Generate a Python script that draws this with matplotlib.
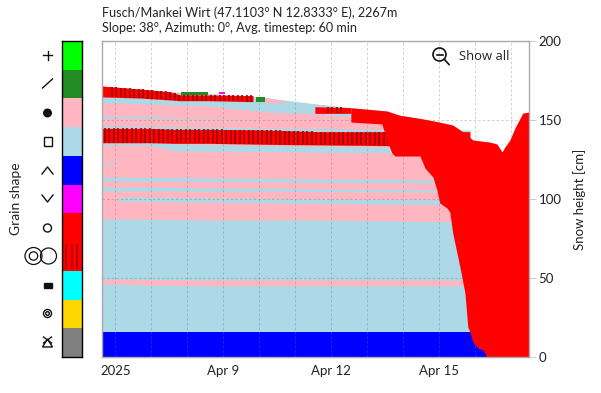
import numpy as np
import matplotlib
matplotlib.use('Agg')
import matplotlib.pyplot as plt
from matplotlib.patches import Circle, Rectangle, Polygon

plt.rcParams['font.family'] = ['Lato', 'DejaVu Sans']

PINK = '#FFB6C1'
LBLUE = '#ADD8E6'
RED = '#FF0000'
DARK = '#A00000'

# legend
grain_colors = ['#00FF00', '#228B22', PINK, LBLUE, '#0000FF', '#FF00FF', RED, RED,
                '#00FFFF', '#FFD700', '#808080']

# x tick labels, days since Apr 6
x_ticks = [0, 3, 6, 9]
x_labels = ['2025', 'Apr 9', 'Apr 12', 'Apr 15']
y_ticks = [0, 50, 100, 150, 200]

# snow surface
t_surface = [-0.375, -0.1, 0.68, 1.79, 2.76, 3.74, 4.15, 4.85, 5.4, 5.82, 6.6, 7.54, 7.9, 8.46,
             8.93, 9.37, 9.7, 9.93, 10.4, 10.6, 10.74, 10.82, 10.96, 11.1, 11.32, 11.49]
surface = [171.5, 171, 169.6, 167.4, 166.5, 164.6, 164.2, 161.7, 160.4, 159.5, 157.6, 155.7, 153, 151,
           149, 146.8, 141.8, 137.3, 136, 134.8, 129.7, 132.9, 137.3, 144.9, 154.4, 155]

# lower limit of the wet red part
t_front = [6.54, 7.4, 7.57, 7.68, 7.76, 8.46, 8.6, 8.82, 8.93, 9.01, 9.21, 9.29, 9.37, 9.57,
           9.71, 9.79, 9.85, 9.93, 10.07, 10.21, 10.32, 11.49]
front = [148.7, 147.5, 135.4, 129.1, 127.2, 127.2, 119.6, 113.9, 105.7, 97.5, 94.3, 91.8, 78.5, 57,
         40.5, 19, 15.8, 9.5, 5.7, 4.4, 0, 0]

# layer limits
t_bands = [-0.375, 0.07, 0.96, 1.65, 2.63, 4.15, 5.68, 7.49, 9.85]
faceted_top = [87.3, 87.3, 87.3, 87, 86.7, 86.7, 86.7, 86.1, 85.4]
strip_low = [46.1, 46.1, 45.5, 45.3, 45.1, 45.1, 45.1, 45.1, 45.1]
strip_high = [49.2, 49.2, 49, 48.9, 48.7, 48.7, 48.7, 48.7, 48.7]
lb2_low = [98.7, 98.7, 98.4, 98.2, 98, 97.5, 97.2, 96.8, 96.5]
lb2_high = [101.3, 101.3, 101.2, 101, 100.6, 100.3, 100, 99.7, 99.5]
lb3_low = [105.1, 105.1, 105, 105, 104.9, 104.8, 104.7, 104.5, 104.4]
lb3_high = [107.6, 107.6, 107.5, 107.3, 107, 106.8, 106.4, 106, 105.7]
lb4_low = [111.4, 111.4, 111.2, 111.2, 111, 110.8, 110.5, 110.3, 110.1]
lb4_high = [113.9, 113.9, 113.7, 113.5, 113.3, 113, 112.6, 112.3, 112]
lb5_low = [134.2, 134.2, 134, 130.5, 130.2, 130, 129.7, 129.3, 129]
lb5_high = [136, 136, 136, 135, 134.5, 134, 133.5, 133, 132]
lb6_low = [144, 144, 144, 143.5, 143.5, 143, 142, 142, 142]
lb6_high = [146.2, 146.2, 146, 145.8, 145.5, 145, 144.6, 144, 143.7]
lb7_low = [151.3, 151.3, 151, 151, 151, 151, 151, 151, 151]
lb7_high = [152.5, 152.5, 152.3, 151.8, 151.4, 151, 151, 151, 151]
lb8_low = [160.8, 160.8, 160.1, 159.5, 158.9, 155.1, 153.8, 150, 130]
crust2_low = [135.6, 135.6, 135.6, 135.2, 135.2, 134.6, 134.2, 133.8, 133.5]
crust2_high = [144.7, 144.7, 144.7, 144.1, 144.1, 143.7, 142.6, 142.6, 142.6]

# top crust
t_crust1 = [-0.375, 0.68, 1.5, 1.79, 2.57, 3.82]
crust1_low = [164.6, 163.9, 162.7, 162.2, 162.2, 161.6]
crust1_high = [171.5, 169.6, 167.9, 166, 165.8, 165.5]

# short pieces on top
t_crust3 = [5.54, 6.54]
crust3_low = [154.2, 154.2]
crust3_high = [158.4, 157.8]
t_pink_top = [4.15, 4.7]
pink_top_low = [161, 161]
t_green1 = [1.82, 2.57]
green1_low = [165.8, 165.8]
green1_high = [167.7, 167.7]
t_magenta = [2.88, 3.04]
magenta_low = [166.5, 166.5]
magenta_high = [167.7, 167.7]
t_green2 = [3.9, 4.15]
green2_low = [161.4, 161.4]
green2_high = [164.6, 164.6]
t_faint = [-0.375, 0.07]
faint_low = [120.9, 120.9]
faint_high = [122.8, 122.8]

W, H = 601, 393
fig = plt.figure(figsize=(W / 100, H / 100), dpi=100)
ax = fig.add_axes([102 / W, 1 - 357 / H, 427 / W, 316 / H])


def stripes(t, low, high, t0, t1):
    # dark stripes every 3 hours
    xs = np.arange(t0, t1, 0.125)
    ax.vlines(xs, np.interp(xs, t, low), np.interp(xs, t, high), color=DARK, lw=1.2, zorder=3)


tb = np.array(t_bands)
ax.fill_between(t_surface, 0, surface, color=PINK, lw=0, zorder=1)
ax.fill_between(t_bands, 0, faceted_top, color=LBLUE, lw=0, zorder=1.1)
ax.fill_between(t_bands, strip_low, strip_high, color=PINK, lw=0, zorder=1.2)
ax.fill_between(tb[1:], lb2_low[1:], lb2_high[1:], color=LBLUE, lw=0, zorder=1.2)
for low, high in [(lb3_low, lb3_high), (lb4_low, lb4_high), (lb5_low, lb5_high),
                  (lb6_low, lb6_high), (lb7_low, lb7_high)]:
    ax.fill_between(t_bands, low, high, color=LBLUE, lw=0, zorder=1.2)
ax.fill_between(t_faint, faint_low, faint_high, color=LBLUE, alpha=0.5, lw=0, zorder=1.2)
ax.fill_between(t_bands, lb8_low, np.interp(t_bands, t_surface, surface), color=LBLUE, lw=0, zorder=1.2)
ax.fill_between(t_pink_top, pink_top_low, np.interp(t_pink_top, t_surface, surface), color=PINK, lw=0, zorder=1.3)
ax.fill_between([-0.375, 10.32], 0, 15.8, color='#0000FF', lw=0, zorder=1.4)

# crust layers
ax.fill_between(t_bands, crust2_low, crust2_high, color=RED, lw=0, zorder=2)
stripes(t_bands, crust2_low, crust2_high, -0.3, 7.6)
ax.fill_between(t_crust1, crust1_low, crust1_high, color=RED, lw=0, zorder=2)
stripes(t_crust1, crust1_low, crust1_high, -0.1, 3.82)
ax.fill_between(t_crust3, crust3_low, crust3_high, color=RED, lw=0, zorder=2)
stripes(t_crust3, crust3_low, crust3_high, 5.9, 6.4)

ax.fill_between(t_green1, green1_low, green1_high, color='#228B22', lw=0, zorder=4)
ax.fill_between(t_magenta, magenta_low, magenta_high, color='#FF00FF', lw=0, zorder=4)
ax.fill_between(t_green2, green2_low, green2_high, color='#228B22', lw=0, zorder=4)

# wet snow
t_all = np.union1d(t_surface, t_front)
t_all = t_all[t_all >= t_front[0]]
ax.fill_between(t_all, np.interp(t_all, t_front, front), np.interp(t_all, t_surface, surface),
                color=RED, lw=0, zorder=5)

ax.set_xlim(-0.375, 11.49)
ax.set_ylim(0, 200)
ax.set_xticks(x_ticks + [1, 2, 4, 5, 7, 8, 10, 11])
ax.set_xticklabels(x_labels + [''] * 8)
ax.set_yticks(y_ticks)
ax.yaxis.tick_right()
ax.yaxis.set_label_position('right')
ax.tick_params(axis='x', length=0, pad=6, labelsize=9.5, colors='#222222')
ax.tick_params(axis='y', length=5, width=0.7, color='#cccccc', pad=2, labelsize=9.5, labelcolor='#222222')
ax.set_axisbelow(False)
ax.grid(True, color='#777777', alpha=0.4, lw=0.6, ls=(0, (3, 2.5)), zorder=6)
for gl in ax.get_xgridlines() + ax.get_ygridlines():
    gl.set_zorder(6)
for s in ax.spines.values():
    s.set_color('#aaaaaa')
    s.set_linewidth(1)
    s.set_zorder(7)
ax.set_ylabel('Snow height [cm]', fontsize=9.5, color='#222222', labelpad=8)

# title
fig.text(102 / W, 1 - 12.5 / H, 'Fusch/Mankei Wirt (47.1103° N 12.8333° E), 2267m', fontsize=9.1,
         va='center', color='#222222')
fig.text(102 / W, 1 - 27.5 / H, 'Slope: 38°, Azimuth: 0°, Avg. timestep: 60 min', fontsize=9.1,
         va='center', color='#222222')
fig.text(16 / W, 1 - 199 / H, 'Grain shape', rotation=90, fontsize=10, va='center', ha='center', color='#222222')

# colour legend
lax = fig.add_axes([62 / W, 1 - 357 / H, 20 / W, 316 / H])
n = len(grain_colors)
lax.bar([0] * n, [1] * n, bottom=np.arange(n)[::-1], width=1, color=grain_colors, lw=0)
lax.vlines([-0.3, -0.02, 0.26], 3.05, 3.95, color=DARK, lw=1.1)
lax.set_xlim(-0.5, 0.5)
lax.set_ylim(0, n)
lax.set_xticks([])
lax.set_yticks([])
for s in lax.spines.values():
    s.set_linewidth(1)

# overlay in pixels for the symbols
ov = fig.add_axes([0, 0, 1, 1], facecolor='none')
ov.set_xlim(0, W)
ov.set_ylim(H, 0)
ov.axis('off')
ink = '#111111'
ov.plot([43, 52], [55, 55], color=ink, lw=1)
ov.plot([47.5, 47.5], [50.5, 59.5], color=ink, lw=1)
ov.plot([42.5, 52.5], [88, 79], color=ink, lw=1)
ov.add_patch(Circle((47.5, 113), 3.8, color=ink))
ov.add_patch(Rectangle((43.5, 137), 8.5, 8.5, fill=False, ec=ink, lw=1))
ov.plot([42, 47.5, 53], [174, 167, 174], color=ink, lw=1)
ov.plot([42, 47.5, 53], [195, 202, 195], color=ink, lw=1)
ov.add_patch(Circle((47.5, 228), 4, fill=False, ec=ink, lw=1))
ov.add_patch(Circle((33.5, 256), 8.5, fill=False, ec=ink, lw=0.9))
ov.add_patch(Circle((33.5, 256), 4.2, fill=False, ec=ink, lw=0.9))
ov.add_patch(Circle((48.5, 256), 8, fill=False, ec=ink, lw=0.9))
ov.add_patch(Rectangle((43.5, 282.5), 8.5, 5, color=ink))
ov.add_patch(Circle((47.5, 313.5), 4, fill=False, ec=ink, lw=1))
ov.add_patch(Circle((47.5, 313.5), 1.8, fill=False, ec=ink, lw=1))
ov.add_patch(Polygon([(42.5, 347), (52.5, 347), (47.5, 339)], fill=False, ec=ink, lw=1))
ov.plot([43.5, 51.5], [337, 343], color=ink, lw=1)
ov.plot([51.5, 43.5], [337, 343], color=ink, lw=1)

# zoom button
ov.add_patch(Circle((439.5, 54.5), 6.5, fill=False, ec=ink, lw=1.2))
ov.plot([436.5, 442.5], [55, 55], color=ink, lw=1.2)
ov.plot([444.5, 449], [59.5, 64.5], color=ink, lw=1.2)
ov.text(459, 56, 'Show all', fontsize=9.4, family='Open Sans', va='center', color='#222222')

fig.savefig('out.png', dpi=100)
